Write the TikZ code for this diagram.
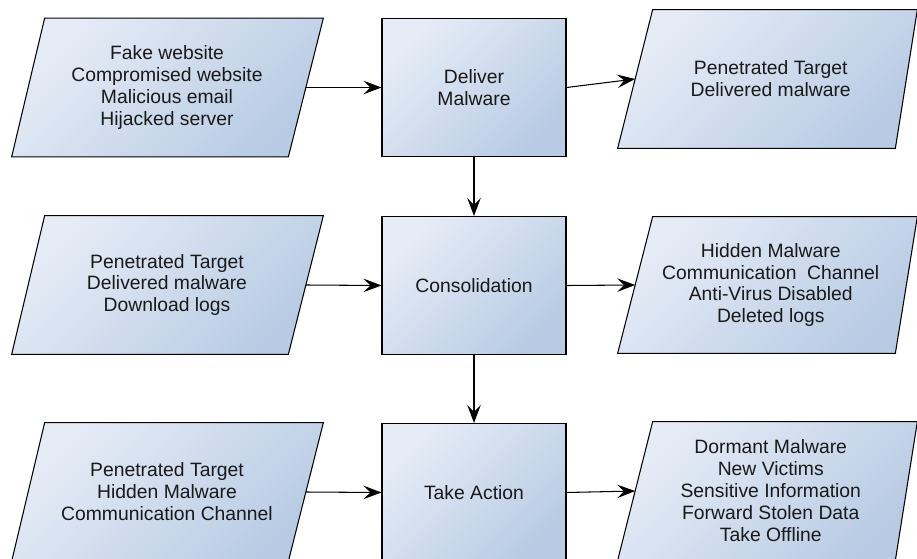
\documentclass[tikz,border=0pt]{standalone}
\usepackage{fontspec}
\setmainfont{Liberation Sans}
\usetikzlibrary{arrows.meta}
\usetikzlibrary{backgrounds}
\definecolor{boxlight}{RGB}{230,236,246}
\definecolor{boxdark}{RGB}{184,203,228}
\tikzset{
    box shade/.style={
        draw=black, line width=0.6pt,
        top color=boxlight, bottom color=boxdark, shading angle=45
    },
    box text/.style={
        align=center, font=\fontsize{11}{12.5}\selectfont, text=black!90
    },
    process box/.style={
        box shade, box text, rectangle,
        minimum width=3.68cm, minimum height=2.76cm, inner sep=0pt
    },
    % the parallelogram is drawn later, behind; the node is its mid-height width
    data box/.style={
        box text, rectangle,
        minimum width=5.54cm, minimum height=2.76cm, inner sep=0pt
    },
    out box/.style={
        data box, minimum width=5.41cm
    },
    flow arrow/.style={
        -{Stealth[length=3.6mm, width=2.7mm, inset=1.4mm]}, line width=0.6pt
    },
}

\begin{document}
\begin{tikzpicture}
\useasboundingbox (0,0) rectangle (18.34,-11.18);
% first row
\node[data box] (src1) at (3.34,-1.75) {Fake website\\Compromised website\\Malicious email\\Hijacked server};
\node[process box] (deliver) at (9.48,-1.75) {Deliver\\Malware};
\node[out box] (out1) at (15.415,-1.58) {Penetrated Target\\Delivered malware};
% second row
\node[data box] (src2) at (3.34,-5.70) {Penetrated Target\\Delivered malware\\Download logs};
\node[process box] (consol) at (9.48,-5.71) {Consolidation};
\node[out box, minimum height=2.72cm] (out2) at (15.415,-5.70) {Hidden Malware\\Communication~ Channel\\Anti-Virus Disabled\\Deleted logs};
% third row
\node[data box] (src3) at (3.34,-9.84) {Penetrated Target\\Hidden Malware\\Communication Channel};
\node[process box] (action) at (9.48,-9.85) {Take Action};
\node[out box] (out3) at (15.415,-9.82) {Dormant Malware\\New Victims\\Sensitive Information\\Forward Stolen Data\\Take Offline};
% parallelograms behind the data nodes
\begin{scope}[on background layer]
\foreach \n/\l/\r in {src1/0.33/0.35, src2/0.33/0.35, src3/0.33/0.35,
                      out1/0.35/0.22, out2/0.35/0.22, out3/0.35/0.22}
    \draw[box shade] ([xshift=\l cm]\n.north west) -- ([xshift=\r cm]\n.north east)
        -- ([xshift=-\r cm]\n.south east) -- ([xshift=-\l cm]\n.south west) -- cycle;
\end{scope}
% arrows
\draw[flow arrow] (src1.east) -- (deliver.west);
\draw[flow arrow] (deliver.east) -- (out1.west);
\draw[flow arrow] (deliver.south) -- (consol.north);
\draw[flow arrow] (src2.east) -- (consol.west);
\draw[flow arrow] (consol.east) -- (out2.west);
\draw[flow arrow] (consol.south) -- (action.north);
\draw[flow arrow] (src3.east) -- (action.west);
\draw[flow arrow] (action.east) -- (out3.west);
\end{tikzpicture}
\end{document}
